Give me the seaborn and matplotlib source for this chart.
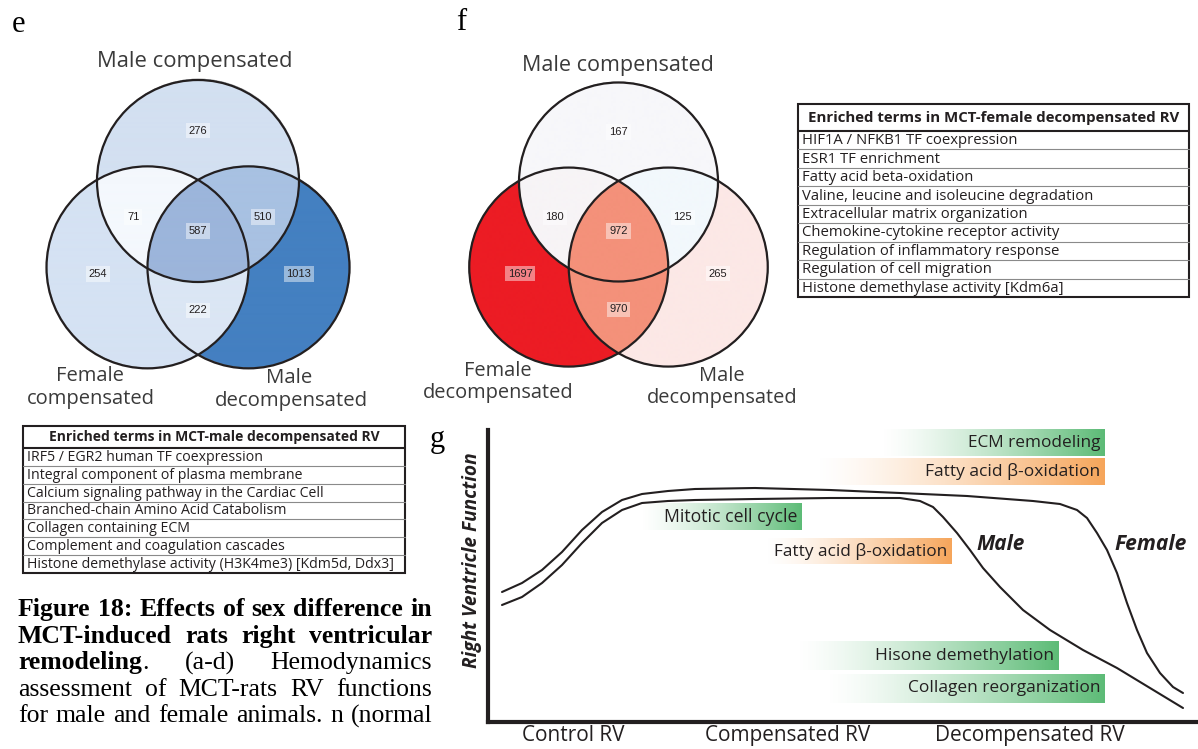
import numpy as np
import matplotlib
matplotlib.use("Agg")
import matplotlib.pyplot as plt
import seaborn as sns
import pandas as pd
from matplotlib.patches import Circle, Rectangle
from matplotlib.colors import to_rgba

# ---------------- data ----------------
region_keys = ["100", "110", "101", "111", "010", "001", "011"]   # (top, left, right)
e_counts = [276, 71, 510, 587, 254, 1013, 222]
f_counts = [167, 180, 125, 972, 1697, 265, 970]
e_set_names = ["Male compensated", "Female\ncompensated", "Male\ndecompensated"]
f_set_names = ["Male compensated", "Female\ndecompensated", "Male\ndecompensated"]
e_region_colors = ["#d3e0f1", "#f4f8fd", "#a8c1e2", "#9cb5db", "#d5e2f3", "#4480c1", "#dbe6f4"]
f_region_colors = ["#f7f7fa", "#f7f4f6", "#f2f8fc", "#f4917a", "#ec1c24", "#fce8e6", "#f4917a"]

male_terms = ["IRF5 / EGR2 human TF coexpression",
              "Integral component of plasma membrane",
              "Calcium signaling pathway in the Cardiac Cell",
              "Branched-chain Amino Acid Catabolism",
              "Collagen containing ECM",
              "Complement and coagulation cascades",
              "Histone demethylase activity (H3K4me3) [Kdm5d, Ddx3]"]
female_terms = ["HIF1A / NFKB1 TF coexpression",
                "ESR1 TF enrichment",
                "Fatty acid beta-oxidation",
                "Valine, leucine and isoleucine degradation",
                "Extracellular matrix organization",
                "Chemokine-cytokine receptor activity",
                "Regulation of inflammatory response",
                "Regulation of cell migration",
                "Histone demethylase activity [Kdm6a]"]

# RV function curves (stage position, function level)
female_x = [14, 34, 54, 74, 94, 114, 134, 154, 180, 207, 267, 342, 412, 479, 545, 572,
            589, 599, 609, 619, 629, 639, 649, 659, 672, 685, 695]
female_y = [130, 139, 152, 170, 192, 210, 222, 228, 231, 233, 234, 232, 229, 226, 221, 218,
            212, 204, 189, 172, 149, 119, 92, 69, 49, 35, 29]
male_x = [14, 34, 54, 74, 94, 114, 134, 154, 180, 207, 267, 342, 412, 432, 445, 455, 469,
          482, 495, 512, 535, 562, 595, 629, 662, 695]
male_y = [117, 125, 139, 157, 179, 199, 212, 219, 221, 222, 223, 224, 224, 221, 215, 205, 189,
          172, 154, 135, 112, 92, 72, 54, 34, 14]
stage_labels = ["Control RV", "Compensated RV", "Decompensated RV"]
stage_pos = [85, 300, 542]

g_terms = ["ECM remodeling", "Fatty acid β-oxidation", "Mitotic cell cycle",
           "Fatty acid β-oxidation", "Hisone demethylation", "Collagen reorganization"]
g_kinds = ["green", "orange", "green", "orange", "green", "green"]

caption_lines = [
    [[("Figure", 1)], [("18:", 1)], [("Effects", 1)], [("of", 1)], [("sex", 1)], [("difference", 1)], [("in", 1)]],
    [[("MCT-induced", 1)], [("rats", 1)], [("right", 1)], [("ventricular", 1)]],
    [[("remodeling", 1), (".", 0)], [("(a-d)", 0)], [("Hemodynamics", 0)]],
    [[(w, 0)] for w in "assessment of MCT-rats RV functions".split()],
    [[(w, 0)] for w in "for male and female animals. n (normal".split()],
]

# ---------------- figure ----------------
sns.set_theme(style="white")
FW, FH = 1198, 749
fig = plt.figure(figsize=(FW / 100, FH / 100), dpi=100)
ax = fig.add_axes([0, 0, 1, 1])
ax.set_axis_off()
SANS = "Open Sans"
SERIF = "Liberation Serif"
INK = "#231f20"
R = fig.canvas.get_renderer()


def fit(t, width, vertical=False):
    bb = t.get_window_extent(R)
    w = bb.height if vertical else bb.width
    t.set_fontsize(t.get_fontsize() * width / w)
    return t.get_fontsize()


def draw_venn(cx, cy, r, counts, colors, names, name_pos):
    centers = [(cx, cy), (cx - r / 2, cy + 0.855 * r), (cx + r / 2, cy + 0.855 * r)]
    x0, x1 = cx - 1.5 * r - 3, cx + 1.5 * r + 3
    y0, y1 = cy - r - 3, cy + 1.855 * r + 3
    xs = np.arange(x0, x1, 0.5) + 0.25
    ys = np.arange(y0, y1, 0.5) + 0.25
    X, Y = np.meshgrid(xs, ys)
    inside = [((X - a) ** 2 + (Y - b) ** 2) <= r * r for a, b in centers]
    img = np.zeros(X.shape + (4,))
    for key, col in zip(region_keys, colors):
        m = np.ones(X.shape, bool)
        for k, ins in zip(key, inside):
            m &= ins if k == "1" else ~ins
        img[m] = to_rgba(col)
    ax.imshow(img, extent=[x0, x1, y1, y0], origin="upper", aspect="auto",
              interpolation="bilinear", zorder=1)
    for a, b in centers:
        ax.add_patch(Circle((a, b), r, fill=False, lw=1.6, ec=INK, zorder=2))
    offs = {"100": (0, -0.5), "110": (-0.64, 0.355), "101": (0.645, 0.355),
            "111": (0, 0.495), "010": (-0.99, 0.92), "001": (1.0, 0.92), "011": (0, 1.28)}
    for key, n in zip(region_keys, counts):
        dx, dy = offs[key]
        ax.text(cx + dx * r, cy + dy * r, str(n), ha="center", va="center",
                fontsize=8, family="Liberation Sans", color=INK, zorder=3,
                bbox=dict(boxstyle="square,pad=0.25", fc="white", ec="none", alpha=0.45))
    for name, pos in zip(names, name_pos):
        lines = name.split("\n")
        ts = []
        for ln, (px, py, w) in zip(lines, pos):
            t = ax.text(px, py, ln, ha="center", va="center", family=SANS,
                        fontsize=12, color="#3a3a3a", zorder=3)
            ts.append((t, w))
        t, w = max(ts, key=lambda q: len(q[0].get_text()))
        fs = fit(t, w)
        if len(ts) > 1:
            fs *= 0.93
        for q, _ in ts:
            q.set_fontsize(fs)


draw_venn(198, 181, 101, e_counts, e_region_colors, e_set_names,
          [[(194.5, 62, 194)], [(90, 376, 73), (91, 399, 137)], [(289, 378, 48), (291, 401, 164)]])
draw_venn(618.5, 182, 99.5, f_counts, f_region_colors, f_set_names,
          [[(618, 65, 190)], [(498, 371, 73), (498, 393, 161)], [(722, 376, 47), (722, 398, 161)]])


def draw_table(x0, x1, y0, yh, y1, header, header_w, rows, fit_idx, fit_w):
    ax.add_patch(Rectangle((x0, y0), x1 - x0, y1 - y0, fill=False, lw=1.5, ec=INK, zorder=3))
    ax.plot([x0, x1], [yh, yh], color=INK, lw=1.5, zorder=3)
    n = len(rows)
    h = (y1 - yh) / n
    for i in range(1, n):
        ax.plot([x0, x1], [yh + i * h] * 2, color="#8a8a8a", lw=0.8, zorder=3)
    ht = ax.text((x0 + x1) / 2, (y0 + yh) / 2 + 0.5, header, ha="center", va="center",
                 fontweight="bold", family=SANS, fontsize=10, color=INK, zorder=4)
    fit(ht, header_w)
    ts = [ax.text(x0 + 4, yh + (i + 0.5) * h + 0.5, s, ha="left", va="center", family=SANS,
                  fontsize=10, color=INK, zorder=4) for i, s in enumerate(rows)]
    fs = fit(ts[fit_idx], fit_w)
    for t in ts:
        t.set_fontsize(fs)


draw_table(23, 405, 426, 448, 573, "Enriched terms in MCT-male decompensated RV", 332,
           male_terms, 6, 368)
draw_table(798, 1189, 104, 131, 297, "Enriched terms in MCT-female decompensated RV", 372,
           female_terms, 3, 293)

# panel letters
for s, x, y in [("e", 12, 24), ("f", 456, 22), ("g", 430, 440)]:
    ax.text(x, y, s, family=SERIF, fontsize=22, ha="left", va="center", color="black")


# caption (justified)
def justify(words, y, x0=18, x1=432, size=18.5):
    items = []
    for pieces in words:
        items.append([ax.text(0, y, s, family=SERIF, fontsize=size,
                              fontweight="bold" if b else "normal",
                              va="baseline", ha="left", color="black") for s, b in pieces])
    widths = [[t.get_window_extent(R).width for t in ts] for ts in items]
    total = sum(sum(w) for w in widths)
    gap = (x1 - x0 - total) / (len(items) - 1)
    x = x0
    for ts, ws in zip(items, widths):
        for t, w in zip(ts, ws):
            t.set_x(x)
            x += w
        x += gap


for i, words in enumerate(caption_lines):
    justify(words, 616 + i * 26.6)

ax.set_xlim(0, FW)
ax.set_ylim(FH, 0)

# ---------------- panel g ----------------
gl, gb, gt = 488, 722, 422
gax = fig.add_axes([gl / FW, (FH - gb) / FH, (FW - gl) / FW, (gb - gt) / FH])
gax.patch.set_alpha(0)
gax.set_xlim(0, FW - gl)
gax.set_ylim(0, gb - gt)

green = to_rgba("#5cbb76")
orange = to_rgba("#f6a55a")
boxes = [(880, 1105, 429, 456), (815, 1105, 458, 485), (640, 802, 503, 530),
         (765, 952, 538, 564), (795, 1059, 641, 670), (825, 1105, 674, 703)]
text_w = [133, 175, 134, 174, 179, 193]
ramp = np.linspace(0, 1, 300) ** 1.35
for term, kind, (px0, px1, py0, py1), tw in zip(g_terms, g_kinds, boxes, text_w):
    c = green if kind == "green" else orange
    grad = np.zeros((1, 300, 4))
    grad[0, :, :3] = c[:3]
    grad[0, :, 3] = ramp
    gax.imshow(grad, extent=[px0 - gl, px1 - gl, gb - py1, gb - py0], aspect="auto",
               interpolation="bilinear", zorder=1)
    t = gax.text(px1 - gl - 5, gb - (py0 + py1) / 2, term, ha="right", va="center",
                 family=SANS, fontsize=11, color=INK, zorder=2)
    fit(t, tw)

df = pd.concat([
    pd.DataFrame({"stage": female_x, "rv": female_y, "sex": "Female"}),
    pd.DataFrame({"stage": male_x, "rv": male_y, "sex": "Male"}),
])
sns.lineplot(data=df, x="stage", y="rv", hue="sex", palette={"Female": INK, "Male": INK},
             sort=False, estimator=None, legend=False, lw=1.5, ax=gax, zorder=3)
for ln in gax.get_lines():
    ln.set_solid_joinstyle("round")
    ln.set_solid_capstyle("round")

for s, px, w in [("Male", 1001, 48), ("Female", 1151, 72)]:
    t = gax.text(px - gl, gb - 545, s, ha="center", va="center", family=SANS,
                 fontweight="bold", fontstyle="italic", fontsize=12, color=INK, zorder=4)
    fit(t, w)

gax.set_xlim(0, FW - gl)
gax.set_ylim(0, gb - gt)
for sp in ["top", "right"]:
    gax.spines[sp].set_visible(False)
for sp in ["left", "bottom"]:
    gax.spines[sp].set_linewidth(3.0)
    gax.spines[sp].set_color(INK)
gax.spines["left"].set_bounds(0, gb - 430)
gax.set_yticks([])
gax.set_xticks(stage_pos)
gax.set_xticklabels(stage_labels, family=SANS, color=INK, fontsize=12)
gax.tick_params(axis="x", length=0, pad=2)
for lab, w in zip(gax.get_xticklabels(), [102, 165, 189]):
    fit(lab, w)
gax.set_xlabel("")
gax.set_ylabel("Right Ventricle Function", family=SANS, fontweight="bold",
               fontstyle="italic", color=INK, fontsize=12, va="center")
gax.yaxis.set_label_coords((472 - gl) / (FW - gl), (gb - 560) / (gb - gt))
fit(gax.yaxis.label, 216, vertical=True)

fig.savefig("out.png", dpi=100)
